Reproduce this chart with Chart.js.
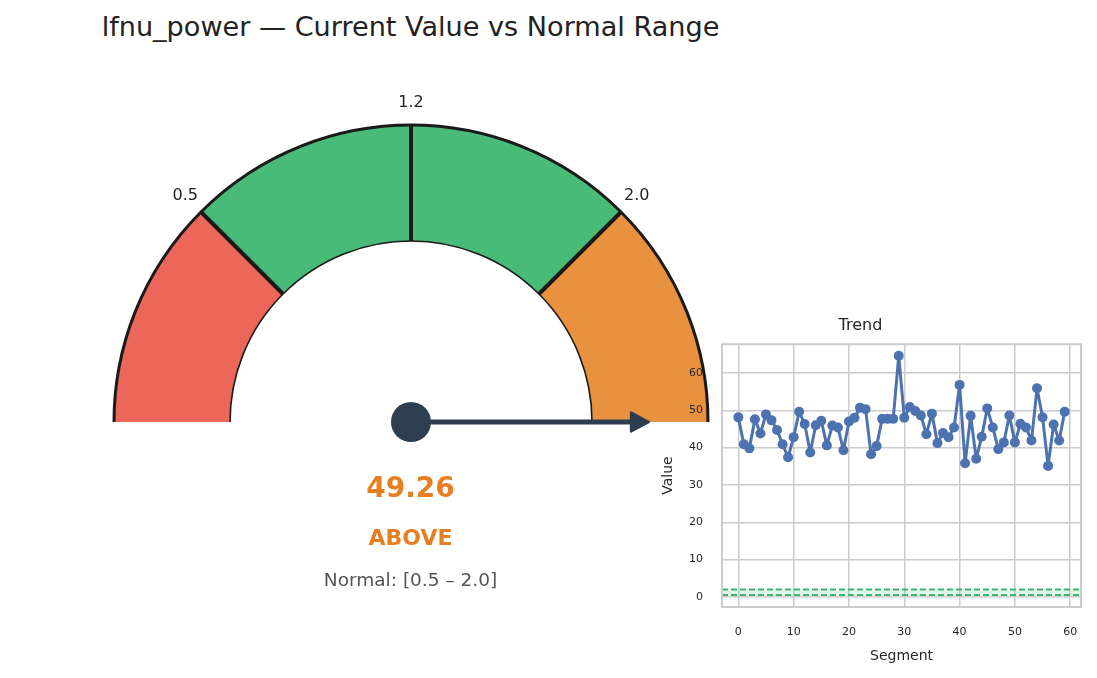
<!DOCTYPE html>
<html>
<head>
<meta charset="utf-8">
<script src="https://cdn.jsdelivr.net/npm/chart.js@4.4.1/dist/chart.umd.min.js"></script>
<style>
  html, body { margin:0; padding:0; background:#fff; }
  body { width:1097px; height:678px; position:relative; overflow:hidden; font-family:"DejaVu Sans", sans-serif; }
  canvas { position:absolute; }
  .txt { position:absolute; transform:translate(-50%,-50%); white-space:nowrap; line-height:1; }
</style>
</head>
<body>
<div class="txt" id="title" style="left:410.5px; top:27px; font-size:27.1px; color:#222;"></div>
<canvas id="gauge" width="720" height="678" style="left:0; top:0;"></canvas>
<div class="txt" id="valueText" style="left:410.5px; top:488px; font-size:28px; font-weight:bold; color:#e67e22;"></div>
<div class="txt" id="statusText" style="left:410.5px; top:538px; font-size:22px; font-weight:bold; color:#e67e22;"></div>
<div class="txt" id="rangeText" style="left:410.5px; top:580px; font-size:18.5px; color:#555;"></div>
<canvas id="trend" width="457" height="378" style="left:640px; top:300px;"></canvas>
<script>
// ---------- data ----------
const metricName = 'lfnu_power';
const currentValue = 49.26;
const statusLabel = 'ABOVE';
const normalLow = 0.5;
const normalHigh = 2.0;
const gaugeTickLabels = ['0.5', '1.2', '2.0'];
const gaugeSegmentSpans = [1, 1, 1, 1];
const gaugeSegmentColors = ['#ec675a', '#48bb78', '#48bb78', '#e8923f'];

const trendSegments = [0,1,2,3,4,5,6,7,8,9,10,11,12,13,14,15,16,17,18,19,20,21,22,23,24,25,26,27,28,29,
  30,31,32,33,34,35,36,37,38,39,40,41,42,43,44,45,46,47,48,49,50,51,52,53,54,55,56,57,58,59];
const trendValues = [48.1,40.9,39.8,47.6,43.8,48.9,47.3,44.7,40.9,37.4,42.8,49.6,46.3,38.7,46.0,47.2,40.6,45.9,45.4,39.3,
  47.0,48.0,50.7,50.3,38.2,40.4,47.7,47.7,47.7,64.6,48.0,50.9,49.8,48.6,43.6,49.1,41.2,43.9,42.8,45.4,
  56.8,35.8,48.5,37.0,42.9,50.5,45.4,39.6,41.4,48.6,41.4,46.4,45.4,41.9,55.9,48.1,35.1,46.2,41.9,49.6];
const xTicks = [0,10,20,30,40,50,60];
const yTicks = [0,10,20,30,40,50,60];
const xMin = -2.95, xMax = 61.95;
const yMin = -2.7, yMax = 67.7;

// ---------- texts ----------
document.getElementById('title').textContent = metricName + ' \u2014 Current Value vs Normal Range';
document.getElementById('valueText').textContent = currentValue.toFixed(2);
document.getElementById('statusText').textContent = statusLabel;
document.getElementById('rangeText').textContent = 'Normal: [' + normalLow + ' \u2013 ' + normalHigh.toFixed(1) + ']';

// ---------- gauge ----------
const gaugeDecor = {
  id: 'gaugeDecor',
  afterDatasetsDraw(chart) {
    const ctx = chart.ctx;
    const arcs = chart.getDatasetMeta(0).data;
    const a0 = arcs[0];
    const cx = a0.x, cy = a0.y, R = a0.outerRadius, r = a0.innerRadius;
    const start = a0.startAngle, end = arcs[arcs.length - 1].endAngle;
    ctx.save();
    ctx.strokeStyle = '#1a1a1a';
    ctx.lineWidth = 3;
    ctx.beginPath(); ctx.arc(cx, cy, R, start, end); ctx.stroke();
    ctx.lineWidth = 1.6;
    ctx.beginPath(); ctx.arc(cx, cy, r, start, end); ctx.stroke();
    ctx.font = '16px "DejaVu Sans"';
    ctx.fillStyle = '#222';
    ctx.textAlign = 'center';
    ctx.textBaseline = 'middle';
    for (let i = 1; i < arcs.length; i++) {
      const ang = arcs[i].startAngle;
      ctx.lineWidth = 4;
      ctx.beginPath();
      ctx.moveTo(cx + r * Math.cos(ang), cy + r * Math.sin(ang));
      ctx.lineTo(cx + R * Math.cos(ang), cy + R * Math.sin(ang));
      ctx.stroke();
      const lr = R * 1.075;
      ctx.fillText(gaugeTickLabels[i - 1], cx + lr * Math.cos(ang), cy + lr * Math.sin(ang));
    }
    // needle (value above range -> clipped at the end of the scale)
    const needleAng = end;
    const ux = Math.cos(needleAng), uy = Math.sin(needleAng);
    const px = -uy, py = ux;
    const L = R * 0.805;
    const tipX = cx + L * ux, tipY = cy + L * uy;
    const headLen = 19, headW = 9.5;
    const bx = tipX - headLen * ux, by = tipY - headLen * uy;
    ctx.strokeStyle = '#2c3e50';
    ctx.fillStyle = '#2c3e50';
    ctx.lineWidth = 5;
    ctx.lineCap = 'butt';
    ctx.beginPath(); ctx.moveTo(cx, cy); ctx.lineTo(bx + 2 * ux, by + 2 * uy); ctx.stroke();
    ctx.lineJoin = 'round';
    ctx.lineWidth = 2.5;
    ctx.beginPath();
    ctx.moveTo(tipX - 1.2 * ux, tipY - 1.2 * uy);
    ctx.lineTo(bx + headW * px, by + headW * py);
    ctx.lineTo(bx - headW * px, by - headW * py);
    ctx.closePath();
    ctx.fill(); ctx.stroke();
    ctx.beginPath(); ctx.arc(cx, cy, 20, 0, Math.PI * 2); ctx.fill();
    ctx.restore();
  }
};

new Chart(document.getElementById('gauge'), {
  type: 'doughnut',
  data: {
    labels: ['low', 'normal-low', 'normal-high', 'high'],
    datasets: [{
      data: gaugeSegmentSpans,
      backgroundColor: gaugeSegmentColors,
      borderWidth: 0,
      hoverOffset: 0,
      offset: 0,
      spacing: 0
    }]
  },
  options: {
    responsive: false,
    animation: false,
    rotation: -90,
    circumference: 180,
    cutout: '60.94%',
    layout: { padding: { left: 114, right: 12, top: 125, bottom: 256 } },
    plugins: { legend: { display: false }, tooltip: { enabled: false }, title: { display: false } },
    events: []
  },
  plugins: [gaugeDecor]
});

// ---------- trend ----------
const boxPlugin = {
  id: 'boxPlugin',
  afterDraw(chart) {
    const { ctx, chartArea: a } = chart;
    ctx.save();
    ctx.strokeStyle = '#cccccc';
    ctx.lineWidth = 2;
    ctx.strokeRect(a.left, a.top, a.right - a.left, a.bottom - a.top);
    ctx.restore();
  }
};

new Chart(document.getElementById('trend'), {
  type: 'scatter',
  data: {
    datasets: [
      {
        label: 'low',
        data: [{ x: xMin, y: normalLow }, { x: xMax, y: normalLow }],
        showLine: true, borderColor: '#3cb46e', borderWidth: 2, borderDash: [6, 3],
        pointRadius: 0, fill: false, order: 3
      },
      {
        label: 'high',
        data: [{ x: xMin, y: normalHigh }, { x: xMax, y: normalHigh }],
        showLine: true, borderColor: '#3cb46e', borderWidth: 2, borderDash: [6, 3],
        pointRadius: 0, fill: { target: 0 }, backgroundColor: 'rgba(46,204,113,0.15)', order: 2
      },
      {
        label: 'Value',
        data: trendSegments.map((s, i) => ({ x: s, y: trendValues[i] })),
        showLine: true, borderColor: '#4c72b0', borderWidth: 3, borderJoinStyle: 'round', borderCapStyle: 'round',
        pointRadius: 5, pointBackgroundColor: '#4c72b0', pointBorderWidth: 0,
        fill: false, order: 1
      }
    ]
  },
  options: {
    responsive: false,
    animation: false,
    events: [],
    layout: { padding: { left: 0, right: 16, top: 0, bottom: 0 } },
    plugins: {
      legend: { display: false },
      tooltip: { enabled: false },
      title: {
        display: true, text: 'Trend', color: '#262626',
        font: { family: '"DejaVu Sans"', size: 16, weight: 'normal' },
        padding: { top: 16, bottom: 9 }
      },
      filler: { propagate: false }
    },
    scales: {
      x: {
        type: 'linear', min: xMin, max: xMax,
        afterBuildTicks: s => { s.ticks = xTicks.map(v => ({ value: v })); },
        afterFit: s => { s.height = 71; },
        grid: { color: '#cccccc', lineWidth: 1.5, drawTicks: false },
        border: { display: false },
        ticks: { color: '#262626', padding: 19, font: { family: '"DejaVu Sans"', size: 11 }, maxRotation: 0 },
        title: { display: true, text: 'Segment', color: '#262626', font: { family: '"DejaVu Sans"', size: 14 }, padding: { top: 0, bottom: 13 } }
      },
      y: {
        type: 'linear', min: yMin, max: yMax,
        afterBuildTicks: s => { s.ticks = yTicks.map(v => ({ value: v })); },
        afterFit: s => { s.width = 82; },
        grid: { color: '#cccccc', lineWidth: 1.5, drawTicks: false },
        border: { display: false },
        ticks: { color: '#262626', padding: 19, font: { family: '"DejaVu Sans"', size: 11 } },
        title: { display: true, text: 'Value', color: '#262626', font: { family: '"DejaVu Sans"', size: 14 }, padding: { top: 20, bottom: 0 } }
      }
    }
  },
  plugins: [boxPlugin]
});
</script>
</body>
</html>
